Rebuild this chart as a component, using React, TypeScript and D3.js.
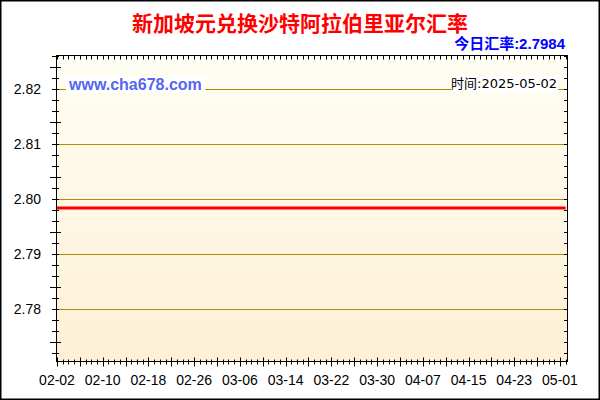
import * as d3 from 'd3';
import { useEffect, useRef } from 'react';

// Chart data
const title = '新加坡元兑换沙特阿拉伯里亚尔汇率';
const todayLabel = '今日汇率:2.7984';
const siteLabel = 'www.cha678.com';
const timeLabel = '时间:2025-05-02';
const pointDates = ['2025-02-02', '2025-05-02'];
const pointValues = [2.7984, 2.7984];
const yTicks = [2.78, 2.79, 2.8, 2.81, 2.82];
const yDomain = [2.7705, 2.8261];

const W = 600;
const H = 400;
const plot = { left: 56.5, top: 55.5, right: 567.5, bottom: 361.5 };

const App = () => {
  const svgRef = useRef<SVGSVGElement>(null);

  useEffect(() => {
    if (!svgRef.current) {
      return;
    }
    const svg = d3.select(svgRef.current);
    svg.selectAll('*').remove();

    const parse = d3.timeParse('%Y-%m-%d');
    const dates = pointDates.map((d) => parse(d) as Date);
    const data = dates.map((d, i) => ({ date: d, value: pointValues[i] }));

    const x = d3
      .scaleTime()
      .domain([dates[0], dates[dates.length - 1]])
      .range([57, 565.7]);
    const y = d3
      .scaleLinear()
      .domain(yDomain)
      .range([plot.bottom, plot.top]);

    const defs = svg.append('defs');
    const grad = defs
      .append('linearGradient')
      .attr('id', 'bg')
      .attr('x1', 0)
      .attr('y1', 0)
      .attr('x2', 0)
      .attr('y2', 1);
    grad.append('stop').attr('offset', '0%').attr('stop-color', '#fffef4');
    grad.append('stop').attr('offset', '100%').attr('stop-color', '#fdf0d5');

    // outer frame
    svg
      .append('rect')
      .attr('x', 0.75)
      .attr('y', 0.75)
      .attr('width', W - 1.5)
      .attr('height', H - 1.5)
      .attr('fill', '#fff')
      .attr('stroke', '#000')
      .attr('stroke-width', 1.5);

    // plot background
    svg
      .append('rect')
      .attr('x', plot.left)
      .attr('y', plot.top)
      .attr('width', plot.right - plot.left)
      .attr('height', plot.bottom - plot.top)
      .attr('fill', 'url(#bg)');

    // grid lines
    svg
      .append('g')
      .selectAll('line')
      .data(yTicks)
      .join('line')
      .attr('x1', plot.left)
      .attr('x2', 565)
      .attr('y1', (d) => Math.round(y(d)) + 0.5)
      .attr('y2', (d) => Math.round(y(d)) + 0.5)
      .attr('stroke', '#b8860b')
      .attr('stroke-width', 1);

    // series line
    const line = d3
      .line<{ date: Date; value: number }>()
      .x((d) => x(d.date))
      .y((d) => y(d.value));
    svg
      .append('path')
      .datum(data)
      .attr('d', line)
      .attr('fill', 'none')
      .attr('stroke', '#ff0000')
      .attr('stroke-width', 3);

    // watermark boxes
    svg
      .append('rect')
      .attr('x', 66)
      .attr('y', 76)
      .attr('width', 139)
      .attr('height', 17)
      .attr('fill', '#fff');
    svg
      .append('text')
      .attr('x', 69)
      .attr('y', 90)
      .attr('font-family', 'Arial, "Liberation Sans", sans-serif')
      .attr('font-weight', 'bold')
      .attr('font-size', 16)
      .attr('fill', '#5566f2')
      .text(siteLabel);

    svg
      .append('rect')
      .attr('x', 453)
      .attr('y', 76)
      .attr('width', 105)
      .attr('height', 16)
      .attr('fill', '#fff');
    svg
      .append('text')
      .attr('x', 557)
      .attr('y', 88)
      .attr('text-anchor', 'end')
      .attr('font-family', '"DejaVu Sans", "Noto Sans CJK SC", sans-serif')
      .attr('font-size', 13)
      .attr('fill', '#000')
      .text(timeLabel);

    // plot frame
    svg
      .append('rect')
      .attr('x', plot.left)
      .attr('y', plot.top)
      .attr('width', plot.right - plot.left)
      .attr('height', plot.bottom - plot.top)
      .attr('fill', 'none')
      .attr('stroke', '#000')
      .attr('stroke-width', 1);

    // y ticks (minor every 0.002)
    const yMinor = d3.range(0, 28).map((i) => 2.772 + i * 0.002).filter((v) => y(v) >= plot.top && y(v) <= plot.bottom);
    const ticks = svg.append('g').attr('stroke', '#000').attr('stroke-width', 1);
    yMinor.forEach((v, i) => {
      const major = (i + 4) % 5 === 0;
      const yy = Math.round(y(v)) + 0.5;
      ticks
        .append('line')
        .attr('x1', major ? 50 : 52)
        .attr('x2', major ? 61 : 59)
        .attr('y1', yy)
        .attr('y2', yy);
      ticks
        .append('line')
        .attr('x1', 564)
        .attr('x2', plot.right)
        .attr('y1', yy)
        .attr('y2', yy);
    });

    // x ticks (minor daily, major every 4 days)
    const days = d3.timeDay.range(dates[0], d3.timeDay.offset(dates[1], 1));
    days.forEach((d, i) => {
      const major = i % 4 === 0;
      const xx = Math.round(x(d)) + 0.5;
      ticks
        .append('line')
        .attr('x1', xx)
        .attr('x2', xx)
        .attr('y1', major ? 357.5 : 359.5)
        .attr('y2', major ? 366.5 : 364.5);
      ticks
        .append('line')
        .attr('x1', xx)
        .attr('x2', xx)
        .attr('y1', plot.top)
        .attr('y2', plot.top + 4);
    });

    // y labels
    svg
      .append('g')
      .selectAll('text')
      .data(yTicks)
      .join('text')
      .attr('x', 41)
      .attr('y', (d) => y(d))
      .attr('dy', '0.36em')
      .attr('text-anchor', 'end')
      .attr('font-family', 'Arial, "Liberation Sans", sans-serif')
      .attr('font-size', 14)
      .attr('fill', '#000')
      .text((d) => d.toFixed(2));

    // x labels
    const fmt = d3.timeFormat('%m-%d');
    svg
      .append('g')
      .selectAll('text')
      .data(days.filter((_, i) => i % 8 === 0 && i <= 88))
      .join('text')
      .attr('x', (d) => x(d))
      .attr('y', 385)
      .attr('text-anchor', 'middle')
      .attr('font-family', 'Arial, "Liberation Sans", sans-serif')
      .attr('font-size', 14)
      .attr('fill', '#000')
      .text((d) => fmt(d));

    // titles
    svg
      .append('text')
      .attr('x', 300)
      .attr('y', 31)
      .attr('text-anchor', 'middle')
      .attr('font-family', '"Noto Sans CJK SC", sans-serif')
      .attr('font-weight', 'bold')
      .attr('font-size', 21)
      .attr('fill', '#ff0000')
      .text(title);
    svg
      .append('text')
      .attr('x', 565)
      .attr('y', 49)
      .attr('text-anchor', 'end')
      .attr('font-family', '"Liberation Sans", "Noto Sans CJK SC", sans-serif')
      .attr('font-weight', 'bold')
      .attr('font-size', 15)
      .attr('fill', '#0000ff')
      .text(todayLabel);
  }, []);

  return (
    <svg
      ref={svgRef}
      width={W}
      height={H}
      style={{ position: 'absolute', left: 0, top: 0, display: 'block' }}
    />
  );
};

export default App;
